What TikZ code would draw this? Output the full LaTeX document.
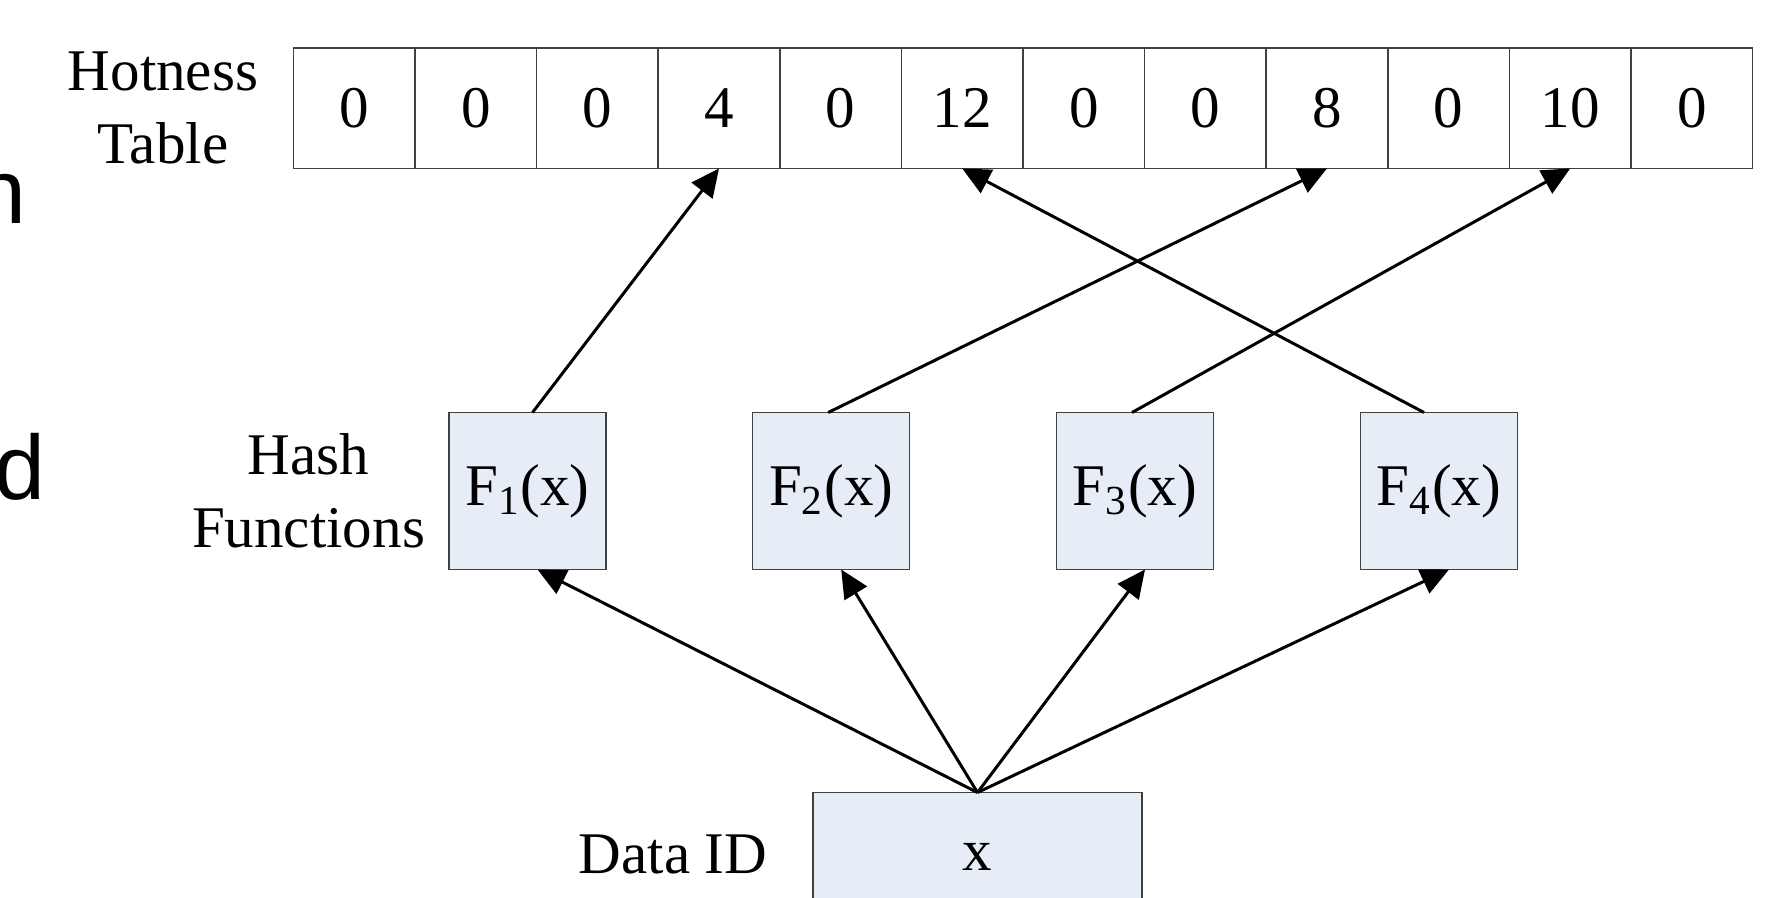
\documentclass[tikz,border=0pt]{standalone}
\usepackage{fontspec}
\setmainfont{Liberation Serif}
\newfontfamily\slidesans{Liberation Sans}
\usetikzlibrary{arrows.meta}
\definecolor{hashblue}{RGB}{230,237,247}
\tikzset{
  cell/.style={draw=black!75, line width=0.45pt, fill=white, minimum width=1.216cm, minimum height=1.207cm, inner sep=0pt, outer sep=0pt},
  hashbox/.style={draw=black!75, line width=0.45pt, fill=hashblue, minimum width=1.57cm, minimum height=1.57cm, inner sep=0pt, outer sep=0pt},
  idbox/.style={draw=black!75, line width=0.45pt, fill=hashblue, minimum width=3.29cm, minimum height=1.29cm, inner sep=0pt, outer sep=0pt},
  hashto/.style={-{Triangle[length=0.28cm,width=0.26cm]}, line width=0.85pt},
  caption/.style={align=center, inner sep=0pt},
}

\begin{document}
\begin{tikzpicture}[font=\fontsize{16.8}{20.6}\selectfont]
			%%%%% START %%%%%
			\useasboundingbox (0, 0) rectangle (17.83, 8.97);
			
			% slide text cut at the left edge
			\node[anchor=base east, inner sep=0pt, font=\slidesans\fontsize{26}{31}\selectfont] (cutn) at (0.27, 6.73) {n};
			\node[anchor=base east, inner sep=0pt, font=\slidesans\fontsize{26}{31}\selectfont] (cutd) at (0.46, 3.97) {d};
			
			% hotness table
			\node[caption] (tablelabel) at (1.63, 7.889) {Hotness\\Table};
			\node[cell] (c0) at (3.542, 7.889) {0};
			\node[cell] (c1) at (4.758, 7.889) {0};
			\node[cell] (c2) at (5.974, 7.889) {0};
			\node[cell] (c3) at (7.190, 7.889) {4};
			\node[cell] (c4) at (8.406, 7.889) {0};
			\node[cell] (c5) at (9.622, 7.889) {12};
			\node[cell] (c6) at (10.838, 7.889) {0};
			\node[cell] (c7) at (12.054, 7.889) {0};
			\node[cell] (c8) at (13.270, 7.889) {8};
			\node[cell] (c9) at (14.486, 7.889) {0};
			\node[cell] (c10) at (15.702, 7.889) {10};
			\node[cell] (c11) at (16.918, 7.889) {0};
			
			% hash functions
			\node[caption] (hashlabel) at (3.085, 4.06) {Hash\\Functions};
			\node[hashbox] (f1) at (5.275, 4.06) {F\textsubscript{1}(x)};
			\node[hashbox] (f2) at (8.312, 4.06) {F\textsubscript{2}(x)};
			\node[hashbox] (f3) at (11.35, 4.06) {F\textsubscript{3}(x)};
			\node[hashbox] (f4) at (14.39, 4.06) {F\textsubscript{4}(x)};
			
			% data id
			\node[anchor=base, inner sep=0pt] (idlabel) at (6.73, 0.24) {Data ID};
			\node[idbox] (data) at (9.775, 0.40) {x};
			
			\draw[hashto] (data.north) -- ([xshift=0.1cm]f1.south);
			\draw[hashto] (data.north) -- ([xshift=0.1cm]f2.south);
			\draw[hashto] (data.north) -- ([xshift=0.1cm]f3.south);
			\draw[hashto] (data.north) -- ([xshift=0.1cm]f4.south);
			
			\draw[hashto] ([xshift=0.05cm]f1.north) -- (c3.south);
			\draw[hashto] ([xshift=-0.03cm]f2.north) -- (c8.south);
			\draw[hashto] ([xshift=-0.03cm]f3.north) -- (c10.south);
			\draw[hashto] ([xshift=-0.15cm]f4.north) -- (c5.south);
			
			%%%%% END %%%%%
\end{tikzpicture}
\end{document}
